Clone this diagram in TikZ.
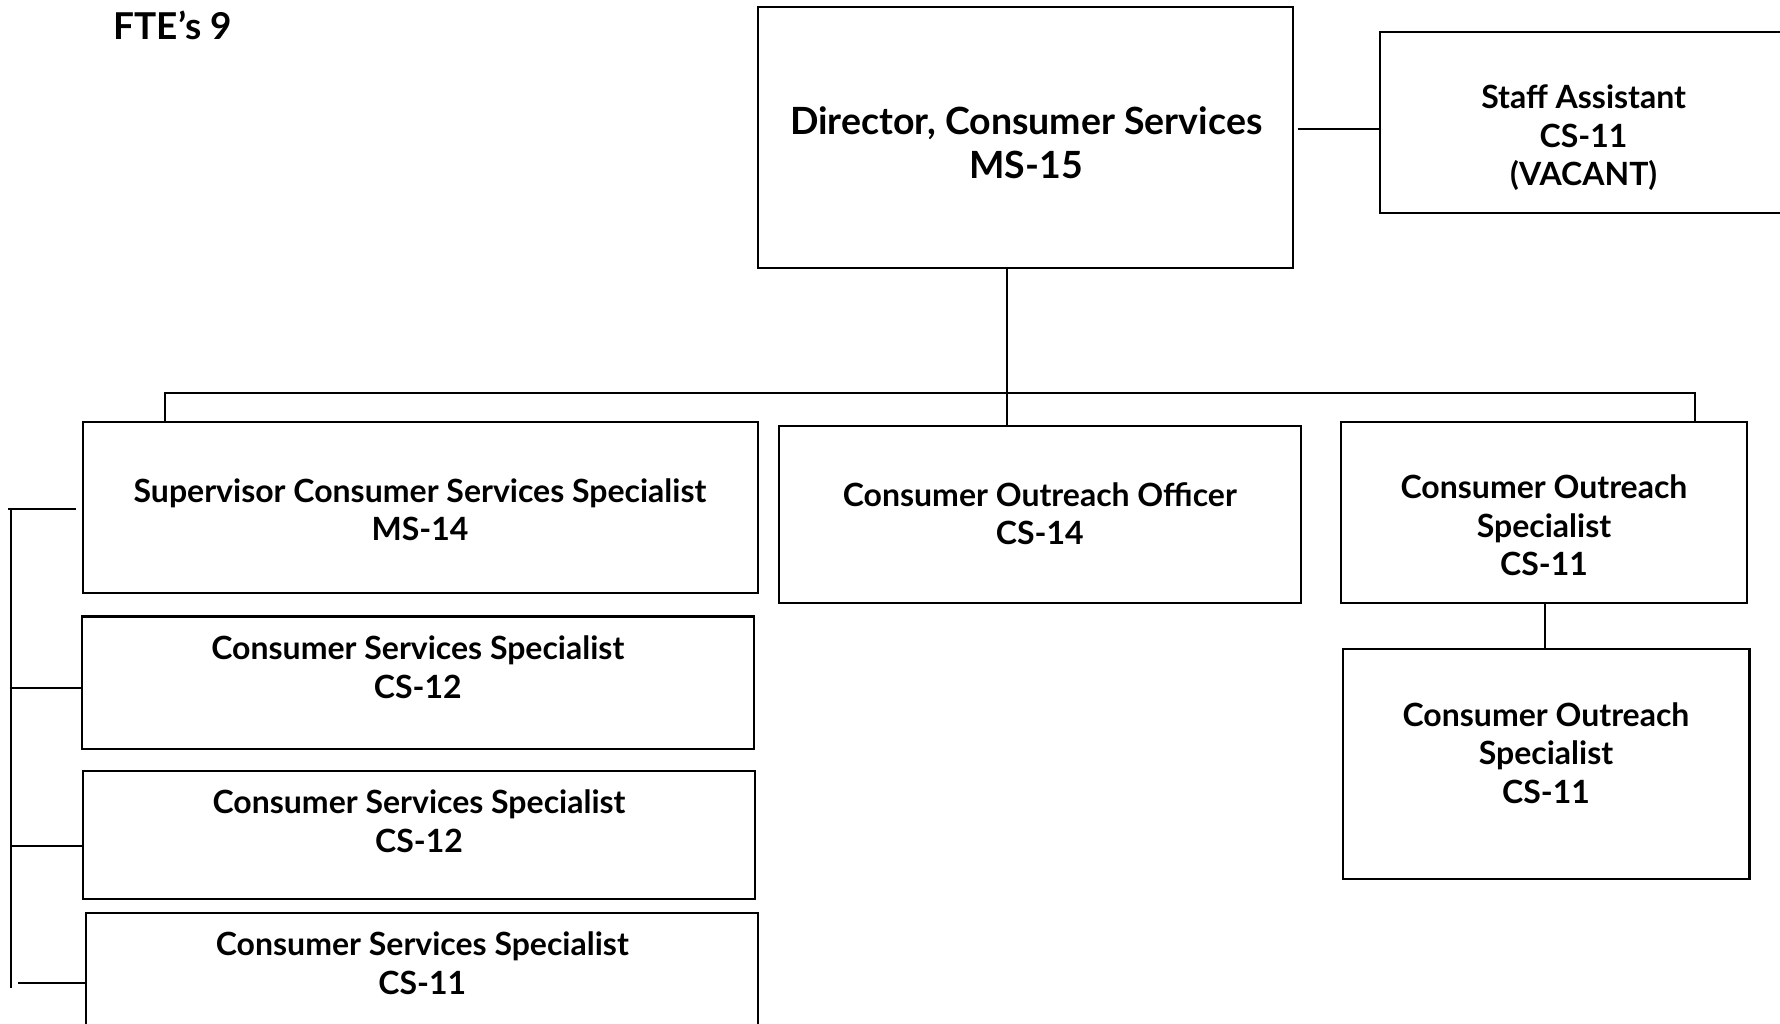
\documentclass[tikz,border=0pt]{standalone}
\usepackage{fontspec}
\setmainfont{Lato}
\begin{document}
\begin{tikzpicture}[x=1pt,y=-1pt,
  box/.style={draw=black, line width=2.2pt, rectangle, inner sep=0pt, fill=none},
  txt/.style={align=center, inner sep=0pt, font=\bfseries\fontsize{32}{38.5}\selectfont},
  bigtxt/.style={align=center, inner sep=0pt, font=\bfseries\fontsize{37.5}{44}\selectfont},
  ftetxt/.style={inner sep=0pt, font=\bfseries\fontsize{37}{44}\selectfont},
  link/.style={draw=black, line width=2pt}]
\useasboundingbox (0,0) rectangle (1780,1024);
\clip (0,0) rectangle (1780,1024);
\fill[white] (0,0) rectangle (1780,1024);

% title
\node[ftetxt, anchor=west] (fte) at (113.5,25) {FTE’s 9};

% boxes
\node[box, minimum width=534.7pt, minimum height=261.1pt] (dir) at (1025.7,137.4) {};
\node[box, minimum width=407pt, minimum height=181.6pt] (staff) at (1583.5,122.6) {};
\node[box, minimum width=675.4pt, minimum height=170.3pt] (sup) at (420.6,507.5) {};
\node[box, minimum width=522.2pt, minimum height=177.1pt] (coo) at (1039.9,514.3) {};
\node[box, minimum width=406.3pt, minimum height=180.5pt] (cos1) at (1543.9,512.6) {};
\node[box, minimum width=406.4pt, minimum height=229.3pt] (cos2) at (1546.2,764) {};
\node[box, minimum width=672.1pt, minimum height=132.8pt] (css1) at (417.8,682.8) {};
\node[box, minimum width=672.1pt, minimum height=128.2pt] (css2) at (419,834.9) {};
\node[box, minimum width=672pt, minimum height=132.3pt] (css3) at (422.3,978.9) {};

% texts
\node[bigtxt] (dirT) at (1026.2,142.5) {Director, Consumer Services\\MS-15};
\node[txt] (staffT) at (1583.6,138) {Staff Assistant\\CS-11\\(VACANT)};
\node[txt] (supT) at (420,509.5) {Supervisor Consumer Services Specialist\\MS-14};
\node[txt] (cooT) at (1039.8,513.5) {Consumer Outreach Officer\\CS-14};
\node[txt] (cos1T) at (1544,525.5) {Consumer Outreach\\Specialist\\CS-11};
\node[txt] (cos2T) at (1546,753) {Consumer Outreach\\Specialist\\CS-11};
\node[txt] (css1T) at (417.8,667) {Consumer Services Specialist\\CS-12};
\node[txt] (css2T) at (419,821.3) {Consumer Services Specialist\\CS-12};
\node[txt] (css3T) at (422.3,963.2) {Consumer Services Specialist\\CS-11};

% connector coordinates
\coordinate (busC) at (1007,392.8);
\coordinate (busL) at (164.6,392.8);
\coordinate (busR) at (1695,392.8);
\coordinate (ds) at (1297.5,129.4);
\coordinate (oc) at (1545,0);
\coordinate (brT) at (11.4,508.6);
\coordinate (brB) at (11.4,987.6);
\coordinate (supTick) at (8,508.6);
\coordinate (supEnd) at (76,508.6);
\coordinate (t1) at (11.4,688);
\coordinate (t2) at (11.4,845.7);
\coordinate (t3) at (18,983);

% connectors
\draw[link] (dir.south -| busC) -- (coo.north -| busC);
\draw[link] (sup.north -| busL) -- (busL) -- (busR) -- (cos1.north -| busR);
\draw[link] (ds) -- (ds -| staff.west);
\draw[link] (cos1.south -| oc) -- (cos2.north -| oc);
\draw[link] (brT) -- (brB);
\draw[link] (supTick) -- (supEnd);
\draw[link] (t1) -- (t1 -| css1.west);
\draw[link] (t2) -- (t2 -| css2.west);
\draw[link] (t3) -- (t3 -| css3.west);
\end{tikzpicture}
\end{document}
